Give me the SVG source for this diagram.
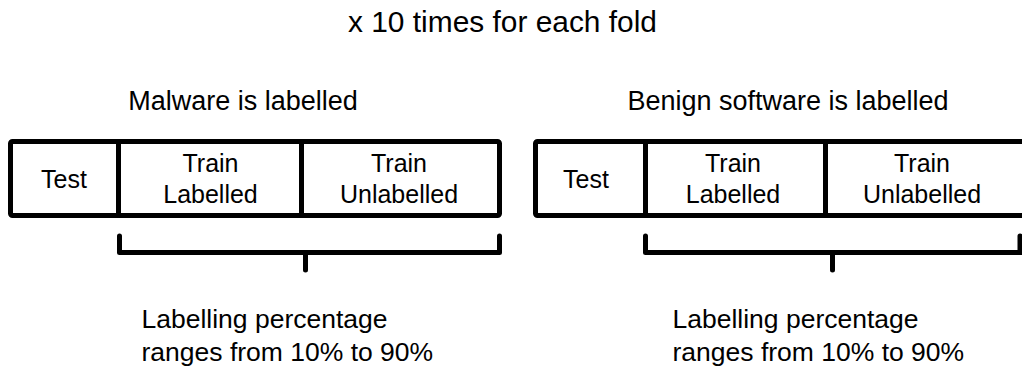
<svg xmlns="http://www.w3.org/2000/svg" width="1022" height="367" viewBox="0 0 1022 367">
<style>
text{font-family:"Liberation Sans",Arial,sans-serif;fill:#000;font-size:25px}
.c{text-anchor:middle}
.t{font-size:29px}
.h{font-size:27px}
.n{font-size:26.5px}
.box{fill:#fff;stroke:#000;stroke-width:5;stroke-linejoin:round}
.div{stroke:#000;stroke-width:5}
.br{fill:none;stroke:#000;stroke-width:5;stroke-linejoin:round;stroke-linecap:round}
</style>
<rect width="1022" height="367" fill="#fff"/>
<text id="title" class="c t" x="502.5" y="32" textLength="309" lengthAdjust="spacingAndGlyphs">x 10 times for each fold</text>
<text id="lab1" class="c h" x="243" y="110">Malware is labelled</text>
<text id="lab2" class="c h" x="788" y="110">Benign software is labelled</text>
<g id="fold1">
<rect class="box" x="10.5" y="141.5" width="489" height="74" rx="2"/>
<line class="div" x1="118.5" y1="141.5" x2="118.5" y2="215.5"/>
<line class="div" x1="301.5" y1="141.5" x2="301.5" y2="215.5"/>
<text class="c" x="64" y="188">Test</text>
<text class="c" x="210.5" y="172">Train</text>
<text class="c" x="210.5" y="203">Labelled</text>
<text class="c" x="399" y="172">Train</text>
<text class="c" x="399" y="203">Unlabelled</text>
</g>
<g id="fold2">
<rect class="box" x="535.5" y="141.5" width="500" height="74" rx="2"/>
<line class="div" x1="645.5" y1="141.5" x2="645.5" y2="215.5"/>
<line class="div" x1="825.5" y1="141.5" x2="825.5" y2="215.5"/>
<text class="c" x="586" y="188">Test</text>
<text class="c" x="733" y="172">Train</text>
<text class="c" x="733" y="203">Labelled</text>
<text class="c" x="922" y="172">Train</text>
<text class="c" x="922" y="203">Unlabelled</text>
</g>
<g id="connectors">
<path class="br" d="M119.5,236 V252.5 H499.5 V236 M305.5,252.5 V270"/>
<path class="br" d="M645.5,236 V252.5 H1024 M1020,252.5 V236 M832.5,252.5 V270"/>
</g>
<g id="note1">
<text class="n" x="141.5" y="328">Labelling percentage</text>
<text class="n" x="141.5" y="361">ranges from 10% to 90%</text>
</g>
<g id="note2">
<text class="n" x="672.5" y="328">Labelling percentage</text>
<text class="n" x="672.5" y="361">ranges from 10% to 90%</text>
</g>
</svg>
